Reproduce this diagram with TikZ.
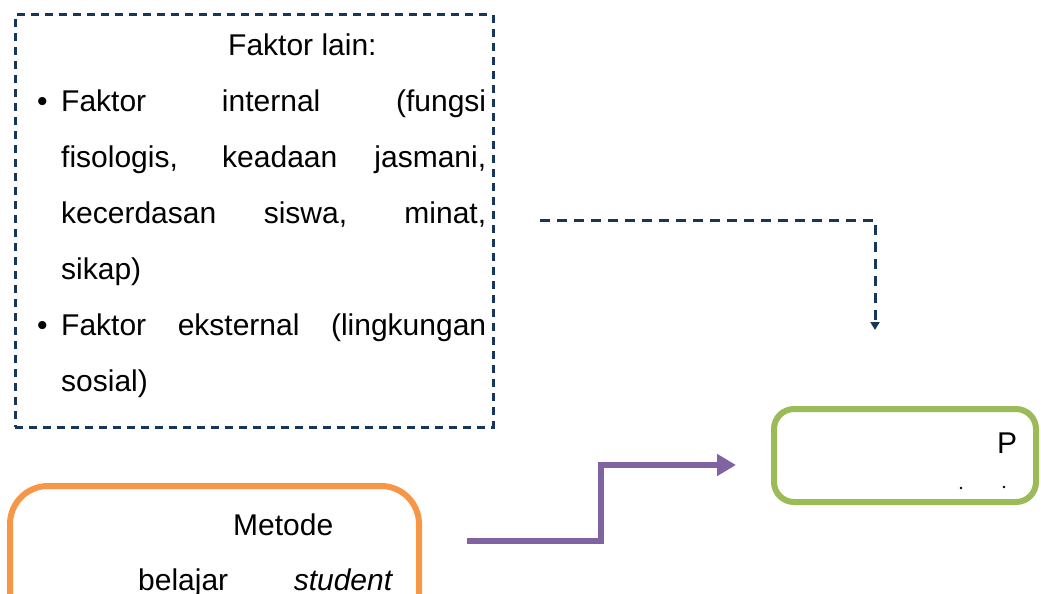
\documentclass[tikz,border=0pt]{standalone}
\usepackage{fontspec}
\setmainfont{Liberation Sans}
\usepackage{xcolor}
\usetikzlibrary{arrows.meta, positioning}
\definecolor{navy}{RGB}{23,54,93}
\definecolor{oranye}{RGB}{247,150,70}
\definecolor{hijau}{RGB}{155,187,89}
\definecolor{ungu}{RGB}{128,100,162}

\begin{document}
\begin{tikzpicture}[
        x=1pt, y=-1pt,
        faktorbox/.style={draw=navy, line width=3pt, dash pattern=on 8pt off 6pt},
        metodebox/.style={draw=oranye, line width=6pt, rounded corners=38pt},
        hasilbox/.style={draw=hijau, line width=6pt, rounded corners=20pt},
        teks/.style={inner sep=0pt, font=\fontsize{30}{56}\selectfont},
        garisputus/.style={draw=navy, line width=3pt, dash pattern=on 10pt off 7pt, -{Triangle[length=8pt, width=9pt]}},
        panahungu/.style={draw=ungu, line width=6pt, -{Triangle[length=19pt, width=21pt]}}
        ]
        \useasboundingbox (0,0) rectangle (1041,594);

        \begin{scope}
        \clip (0,0) rectangle (1041,594);

        %% Boxes
        \node[faktorbox, minimum width=478pt, minimum height=412pt] (faktor) at (254,221) {};
        \node[metodebox, minimum width=409pt, minimum height=230pt] (metode) at (214.5,601) {};
        \node[hasilbox, minimum width=262pt, minimum height=93pt] (hasil) at (905,455.5) {};

        %% Texts
        \node[teks, anchor=north west, align=left] (faktorisi) at (37,33.5) {%
            \hspace*{191pt}Faktor lain:\\
            \makebox[24pt][l]{\textbullet}\makebox[425pt][s]{Faktor internal (fungsi}\\
            \hspace*{24pt}\makebox[425pt][s]{fisologis, keadaan jasmani,}\\
            \hspace*{24pt}\makebox[425pt][s]{kecerdasan siswa, minat,}\\
            \hspace*{24pt}sikap)\\
            \makebox[24pt][l]{\textbullet}\makebox[425pt][s]{Faktor eksternal (lingkungan}\\
            \hspace*{24pt}sosial)};
        \node[teks, anchor=base west] (metodejudul) at (233,535) {Metode};
        \node[teks, anchor=base west] (metodebaris) at (138,590) {\makebox[255pt][s]{belajar \textit{student}}};
        \node[teks, anchor=base west] (hasiljudul) at (997,453) {P};
        \fill (961,488) circle (1.3pt);
        \fill (1004,487) circle (1.3pt);
        \end{scope}

        %% Connectors
        \coordinate (garisawal) at (540,220);
        \coordinate (garisakhir) at (875,330);
        \draw[garisputus] (garisawal) -| (garisakhir);

        \coordinate (panahawal) at (467,541);
        \coordinate (tekuk) at (601,465);
        \coordinate (panahakhir) at (736,465);
        \draw[panahungu] (panahawal) -| (tekuk) -- (panahakhir);
\end{tikzpicture}
\end{document}
